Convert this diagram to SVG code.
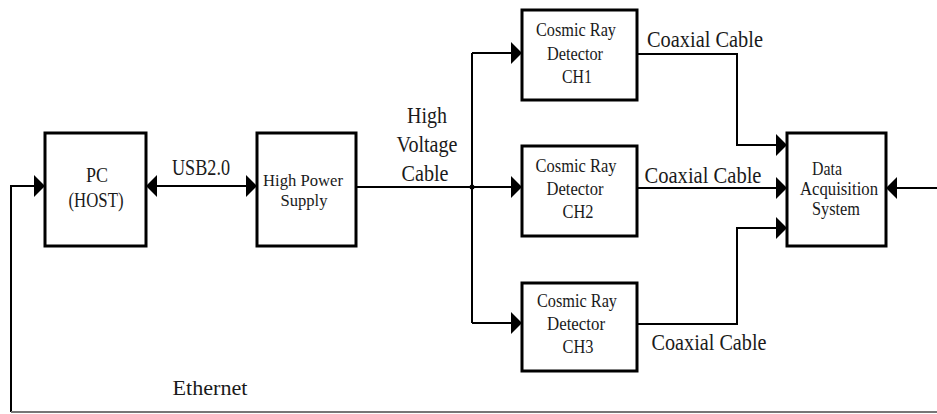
<svg xmlns="http://www.w3.org/2000/svg" width="937" height="414" viewBox="0 0 937 414">
<style>
  .box { fill: #fff; stroke: #000; stroke-width: 3; }
  .ln { fill: none; stroke: #000; stroke-width: 2; }
  text { font-family: "Liberation Serif", "DejaVu Serif", serif; fill: #1a1a1a; text-anchor: middle; }
  .xs { font-size: 17px; }
  .sm { font-size: 19px; }
  .md { font-size: 21px; }
  .lg { font-size: 24px; }
</style>
<defs>
  <marker id="ah" viewBox="0 0 11 22" markerWidth="11" markerHeight="22" refX="11" refY="11" orient="auto-start-reverse" markerUnits="userSpaceOnUse">
    <path d="M0,0 L11,11 L0,22 z" fill="#000"/>
  </marker>
</defs>
<rect width="937" height="414" fill="#fff"/>

<g id="connectors">
  <path class="ln" d="M11,412 V186 H45" marker-end="url(#ah)"/>
  <path d="M11,412 H937" fill="none" stroke="#777" stroke-width="2"/>
  <path class="ln" d="M146,186 H257" marker-start="url(#ah)" marker-end="url(#ah)"/>
  <path class="ln" d="M356,187 H522" marker-end="url(#ah)"/>
  <path class="ln" d="M472,53 V323"/>
  <path class="ln" d="M472,53 H522" marker-end="url(#ah)"/>
  <path class="ln" d="M472,323 H522" marker-end="url(#ah)"/>
  <circle cx="472" cy="187" r="2.5" fill="#000"/>
  <path class="ln" d="M637,54 H737 V145 H787" marker-end="url(#ah)"/>
  <path class="ln" d="M637,188 H787" marker-end="url(#ah)"/>
  <path class="ln" d="M637,324 H737 V228 H787" marker-end="url(#ah)"/>
  <path class="ln" d="M937,188 H886" marker-end="url(#ah)"/>
  <text class="lg" x="201" y="175" textLength="58" lengthAdjust="spacingAndGlyphs">USB2.0</text>
  <text class="lg" x="427" y="123" textLength="40" lengthAdjust="spacingAndGlyphs">High</text>
  <text class="lg" x="427" y="152" textLength="61" lengthAdjust="spacingAndGlyphs">Voltage</text>
  <text class="lg" x="425" y="181" textLength="47" lengthAdjust="spacingAndGlyphs">Cable</text>
  <text class="lg" x="705" y="47" textLength="116" lengthAdjust="spacingAndGlyphs">Coaxial Cable</text>
  <text class="lg" x="703" y="183" textLength="117" lengthAdjust="spacingAndGlyphs">Coaxial Cable</text>
  <text class="lg" x="709" y="350" textLength="115" lengthAdjust="spacingAndGlyphs">Coaxial Cable</text>
  <text class="md" x="210" y="395" textLength="75" lengthAdjust="spacingAndGlyphs">Ethernet</text>
</g>

<g id="pc">
  <rect class="box" x="45" y="133" width="101" height="113"/>
  <text class="md" x="97" y="182" textLength="22" lengthAdjust="spacingAndGlyphs">PC</text>
  <text class="md" x="96" y="207" textLength="55" lengthAdjust="spacingAndGlyphs">(HOST)</text>
</g>

<g id="hps">
  <rect class="box" x="257" y="133" width="99" height="113"/>
  <text class="xs" x="303" y="186" textLength="80" lengthAdjust="spacingAndGlyphs">High Power</text>
  <text class="xs" x="304" y="206" textLength="47" lengthAdjust="spacingAndGlyphs">Supply</text>
</g>

<g id="ch1">
  <rect class="box" x="522" y="10" width="115" height="90"/>
  <text class="sm" x="576" y="36" textLength="80" lengthAdjust="spacingAndGlyphs">Cosmic Ray</text>
  <text class="sm" x="575" y="60" textLength="56" lengthAdjust="spacingAndGlyphs">Detector</text>
  <text class="sm" x="577" y="83" textLength="30" lengthAdjust="spacingAndGlyphs">CH1</text>
</g>

<g id="ch2">
  <rect class="box" x="522" y="146" width="115" height="90"/>
  <text class="sm" x="576" y="172" textLength="81" lengthAdjust="spacingAndGlyphs">Cosmic Ray</text>
  <text class="sm" x="575" y="195" textLength="57" lengthAdjust="spacingAndGlyphs">Detector</text>
  <text class="sm" x="578" y="218" textLength="31" lengthAdjust="spacingAndGlyphs">CH2</text>
</g>

<g id="ch3">
  <rect class="box" x="522" y="283" width="115" height="88"/>
  <text class="sm" x="577" y="307" textLength="80" lengthAdjust="spacingAndGlyphs">Cosmic Ray</text>
  <text class="sm" x="576" y="330" textLength="58" lengthAdjust="spacingAndGlyphs">Detector</text>
  <text class="sm" x="578" y="353" textLength="31" lengthAdjust="spacingAndGlyphs">CH3</text>
</g>

<g id="daq">
  <rect class="box" x="787" y="133" width="99" height="113"/>
  <text class="sm" x="827" y="175" textLength="30" lengthAdjust="spacingAndGlyphs">Data</text>
  <text class="sm" x="839" y="195" textLength="78" lengthAdjust="spacingAndGlyphs">Acquisition</text>
  <text class="sm" x="836" y="215" textLength="48" lengthAdjust="spacingAndGlyphs">System</text>
</g>
</svg>
